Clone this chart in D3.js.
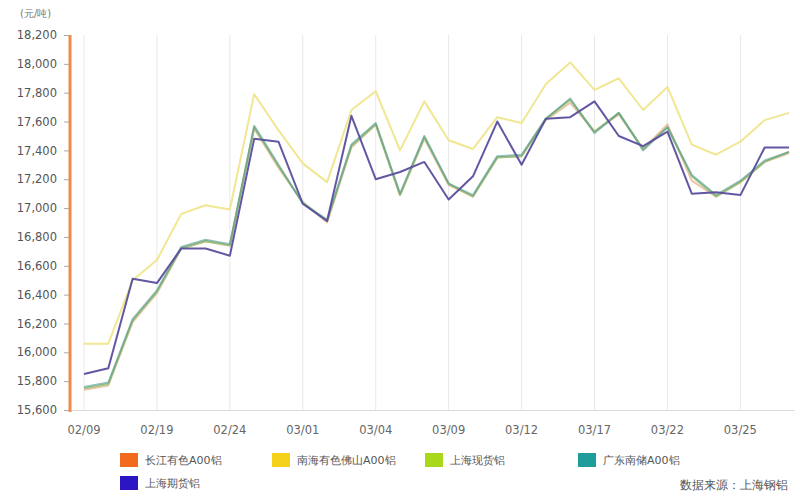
<!DOCTYPE html>
<html><head><meta charset="utf-8">
<script src="https://cdn.jsdelivr.net/npm/d3@7"></script>
<style>body{margin:0;background:#fff}svg{display:block}text{font-family:"DejaVu Sans",Verdana,sans-serif}</style>
</head><body><svg id="c" width="800" height="500"></svg>
<script>
const tickLabels = ["02/09","02/19","02/24","03/01","03/04","03/09","03/12","03/17","03/22","03/25"];
const yTicks = [15600,15800,16000,16200,16400,16600,16800,17000,17200,17400,17600,17800,18000,18200];
const seriesNames = ["长江有色A00铝","南海有色佛山A00铝","上海现货铝","广东南储A00铝","上海期货铝"];
const seriesColors = ["#f26a1b","#f5d21a","#a9d71c","#1f9d9a","#2c16c4"];
const lineColors = ["#e0a070","#f0e386","#98c070","#4f9a8c","#5a4e9e"];
const changjiang = [15740,15770,16210,16410,16720,16770,16740,17550,17280,17040,16900,17420,17580,17090,17480,17160,17080,17350,17360,17610,17730,17530,17650,17410,17580,17190,17080,17180,17320,17380];
const nanhai = [16060,16060,16500,16640,16960,17020,16990,17790,17540,17310,17180,17680,17810,17400,17740,17470,17410,17630,17590,17860,18010,17820,17900,17680,17840,17440,17370,17460,17610,17660];
const shSpot = [15750,15780,16220,16420,16720,16770,16740,17560,17290,17040,16910,17430,17580,17090,17490,17170,17080,17350,17360,17620,17750,17530,17660,17410,17560,17220,17080,17180,17320,17390];
const guangdong = [15760,15790,16230,16430,16730,16780,16750,17570,17300,17030,16920,17440,17590,17100,17500,17170,17090,17360,17370,17620,17760,17520,17660,17400,17560,17230,17090,17190,17330,17390];
const shFutures = [15850,15890,16510,16480,16720,16720,16670,17480,17460,17030,16910,17640,17200,17250,17320,17060,17220,17600,17300,17620,17630,17740,17500,17430,17530,17100,17110,17090,17420,17420];
const allSeries = [changjiang,nanhai,shSpot,guangdong,shFutures];
const drawOrder = [1,0,2,3,4];

const svg = d3.select("#c");
const x = d3.scaleLinear().domain([0, shSpot.length-1]).range([84, 789]);
const y = d3.scaleLinear().domain([15600,18200]).range([410,35]);

const tickIdx = tickLabels.map((d,i)=>i*3);
svg.append("g").selectAll("line").data(tickIdx).join("line")
  .attr("x1",d=>x(d)).attr("x2",d=>x(d)).attr("y1",35).attr("y2",410)
  .attr("stroke","#e8e8e8").attr("stroke-width",1);

svg.append("line").attr("x1",70).attr("x2",795).attr("y1",410.5).attr("y2",410.5).attr("stroke","#dcdcdc");

svg.append("g").selectAll("text").data(tickIdx).join("text")
  .attr("x",d=>x(d)).attr("y",434).attr("text-anchor","middle")
  .attr("font-size",11.5).attr("fill","#666").text((d,i)=>tickLabels[i]);

const yAxis = d3.axisLeft(y).tickValues(yTicks).tickFormat(d3.format(",")).tickSize(5).tickPadding(7);
const gy = svg.append("g").attr("transform","translate(69,0)").call(yAxis);
gy.select(".domain").remove();
gy.selectAll(".tick line").attr("stroke","#aaa");
gy.selectAll(".tick text").attr("font-size",11.5).attr("fill","#555").style("font-family","DejaVu Sans, Verdana, sans-serif");
svg.append("line").attr("x1",70).attr("x2",70).attr("y1",35).attr("y2",412).attr("stroke","#f08a4b").attr("stroke-width",3);

svg.append("text").attr("x",20).attr("y",17).attr("font-size",10).attr("fill","#777").text("(元/吨)");

const line = d3.line().x((d,i)=>x(i)).y(d=>y(d));
const opac = [0.6,0.9,0.8,0.6,0.95];
svg.append("g").selectAll("path").data(drawOrder).join("path")
  .attr("d",k=>line(allSeries[k])).attr("fill","none")
  .attr("stroke",k=>lineColors[k]).attr("stroke-opacity",k=>opac[k])
  .attr("stroke-width",2).attr("stroke-linejoin","round");

const legPos = [[120,460],[272,460],[425,460],[578,460],[120,483]];
const lg = svg.append("g").selectAll("g").data(seriesNames).join("g")
  .attr("transform",(d,i)=>`translate(${legPos[i][0]},${legPos[i][1]})`);
lg.append("rect").attr("x",0).attr("y",-7).attr("width",18).attr("height",14).attr("fill",(d,i)=>seriesColors[i]);
lg.append("text").attr("x",25).attr("y",4).attr("font-size",11).attr("fill","#555").text(d=>d);

svg.append("text").attr("x",788).attr("y",489).attr("text-anchor","end").attr("font-size",12).attr("fill","#555").text("数据来源：上海钢铝");
</script></body></html>
